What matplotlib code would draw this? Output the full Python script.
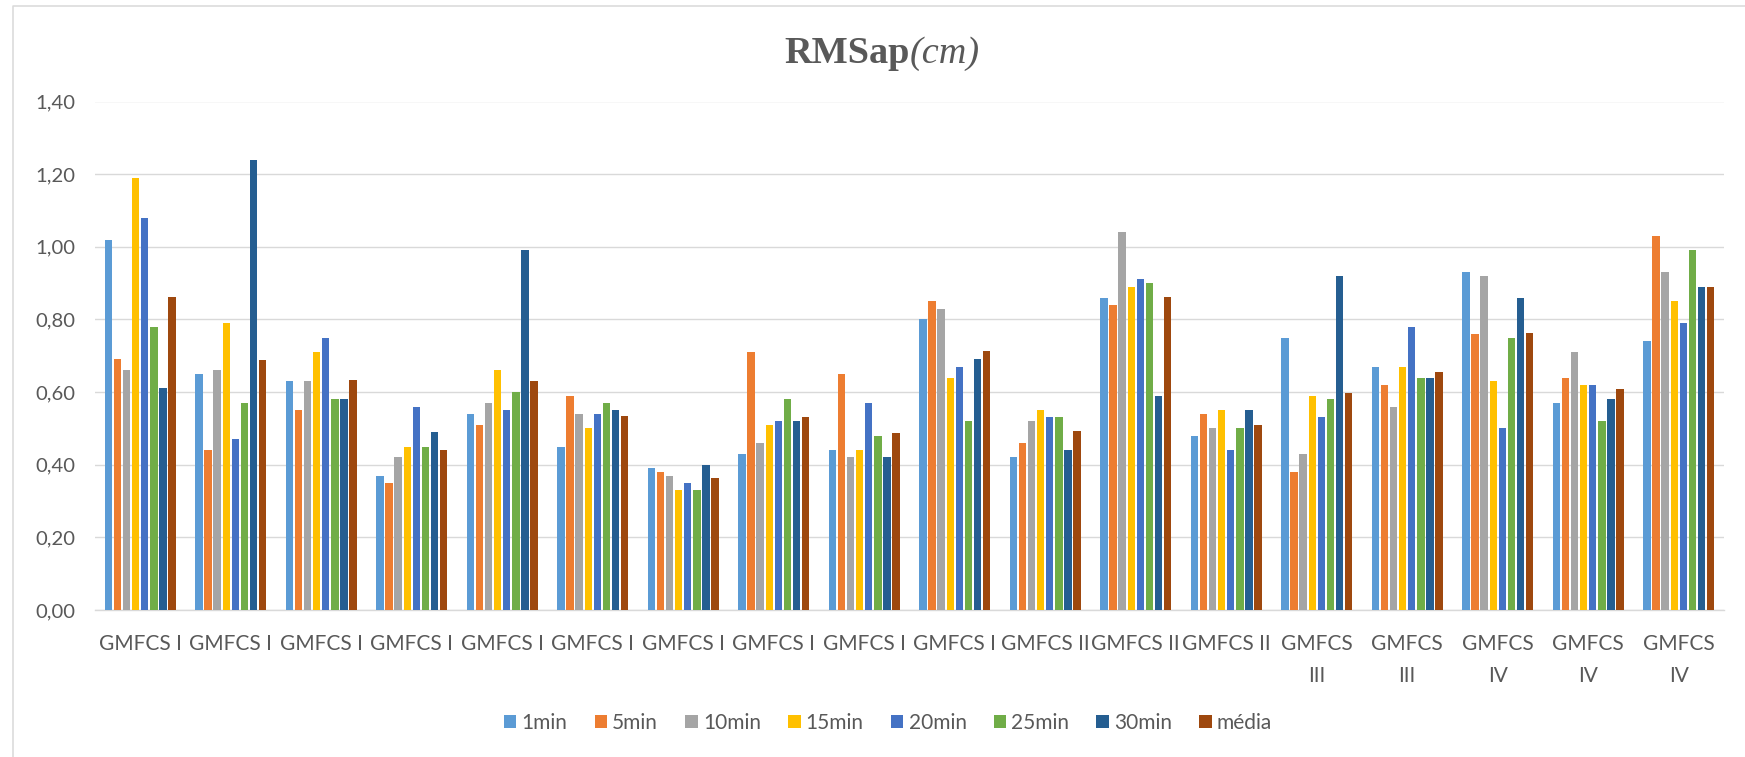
import matplotlib
matplotlib.use("Agg")
import matplotlib.pyplot as plt
from matplotlib.ticker import FuncFormatter, MultipleLocator
from matplotlib.lines import Line2D
import numpy as np

# RMSap (cm) per subject, one series per time window plus the mean
categories = ["GMFCS I"] * 10 + ["GMFCS II"] * 3 + ["GMFCS III"] * 2 + ["GMFCS IV"] * 3
series_names = ["1min", "5min", "10min", "15min", "20min", "25min", "30min", "média"]

v_1min  = [1.02, 0.65, 0.63, 0.37, 0.54, 0.45, 0.39, 0.43, 0.44, 0.80, 0.42, 0.86, 0.48, 0.75, 0.67, 0.93, 0.57, 0.74]
v_5min  = [0.69, 0.44, 0.55, 0.35, 0.51, 0.59, 0.38, 0.71, 0.65, 0.85, 0.46, 0.84, 0.54, 0.38, 0.62, 0.76, 0.64, 1.03]
v_10min = [0.66, 0.66, 0.63, 0.42, 0.57, 0.54, 0.37, 0.46, 0.42, 0.83, 0.52, 1.04, 0.50, 0.43, 0.56, 0.92, 0.71, 0.93]
v_15min = [1.19, 0.79, 0.71, 0.45, 0.66, 0.50, 0.33, 0.51, 0.44, 0.64, 0.55, 0.89, 0.55, 0.59, 0.67, 0.63, 0.62, 0.85]
v_20min = [1.08, 0.47, 0.75, 0.56, 0.55, 0.54, 0.35, 0.52, 0.57, 0.67, 0.53, 0.91, 0.44, 0.53, 0.78, 0.50, 0.62, 0.79]
v_25min = [0.78, 0.57, 0.58, 0.45, 0.60, 0.57, 0.33, 0.58, 0.48, 0.52, 0.53, 0.90, 0.50, 0.58, 0.64, 0.75, 0.52, 0.99]
v_30min = [0.61, 1.24, 0.58, 0.49, 0.99, 0.55, 0.40, 0.52, 0.42, 0.69, 0.44, 0.59, 0.55, 0.92, 0.64, 0.86, 0.58, 0.89]
v_media = [0.861, 0.689, 0.633, 0.441, 0.631, 0.534, 0.363, 0.531, 0.487, 0.714, 0.493, 0.861, 0.509, 0.597, 0.654, 0.764, 0.609, 0.889]

series = [v_1min, v_5min, v_10min, v_15min, v_20min, v_25min, v_30min, v_media]
colors = ["#5B9BD5", "#ED7D31", "#A5A5A5", "#FFC000", "#4472C4", "#70AD47", "#255E91", "#9E480E"]

txt = "#595959"
grid_c = "#D9D9D9"
plt.rcParams['font.family'] = ['Lato', 'DejaVu Sans']

W, H = 1745, 757
fig = plt.figure(figsize=(W / 100, H / 100), dpi=100)
ax = fig.add_axes([95 / W, 1 - 610 / H, (1724 - 95) / W, (610 - 101.5) / H])

x = np.arange(len(categories))
step = 0.1
bw = 0.082
for i, (vals, c, name) in enumerate(zip(series, colors, series_names)):
    ax.bar(x + (i - 3.5) * step, vals, width=bw, color=c, label=name, zorder=3)

ax.set_xlim(-0.5, len(categories) - 0.5)
ax.set_ylim(0, 1.4)
ax.yaxis.set_major_locator(MultipleLocator(0.2))
ax.yaxis.set_major_formatter(FuncFormatter(lambda v, p: f"{v:.2f}".replace(".", ",")))
ax.grid(axis="y", color=grid_c, lw=1.0, zorder=0)
ax.set_axisbelow(True)
for s in ["top", "right", "left"]:
    ax.spines[s].set_visible(False)
ax.spines["bottom"].set_color(grid_c)
ax.spines["bottom"].set_linewidth(1.0)

# the wider class names do not fit on one line
wrapped = {"GMFCS III", "GMFCS IV"}
tick_labels = [c.replace(" ", "\n") if c in wrapped else c for c in categories]
ax.set_xticks(x)
ax.set_xticklabels(tick_labels, linespacing=1.75)
ax.tick_params(axis="x", length=0, pad=17, labelsize=15, colors=txt)
ax.tick_params(axis="y", length=0, pad=14, labelsize=14.6, colors=txt)

# title: bold name followed by italic unit
ty = 1 - 63 / H
fig.text(910 / W, ty, "RMSap", ha="right", va="baseline", family="Liberation Serif",
         weight="bold", size=27.5, color=txt)
fig.text(910 / W, ty, "(cm)", ha="left", va="baseline", family="Liberation Serif",
         style="italic", size=27.5, color=txt)

h, l = ax.get_legend_handles_labels()
leg = fig.legend(h, l, loc="center", bbox_to_anchor=(888 / W, 1 - 723 / H), ncol=8,
                 frameon=False, fontsize=15, handlelength=0.6, handleheight=0.6,
                 handletextpad=0.25, columnspacing=1.3)
for t in leg.get_texts():
    t.set_color(txt)

# chart area outline
fig.add_artist(Line2D([13 / W, 13 / W, 1.0], [0.0, 1 - 6 / H, 1 - 6 / H],
                      transform=fig.transFigure, color=grid_c, lw=1.1))

fig.savefig("out.png", dpi=100)
